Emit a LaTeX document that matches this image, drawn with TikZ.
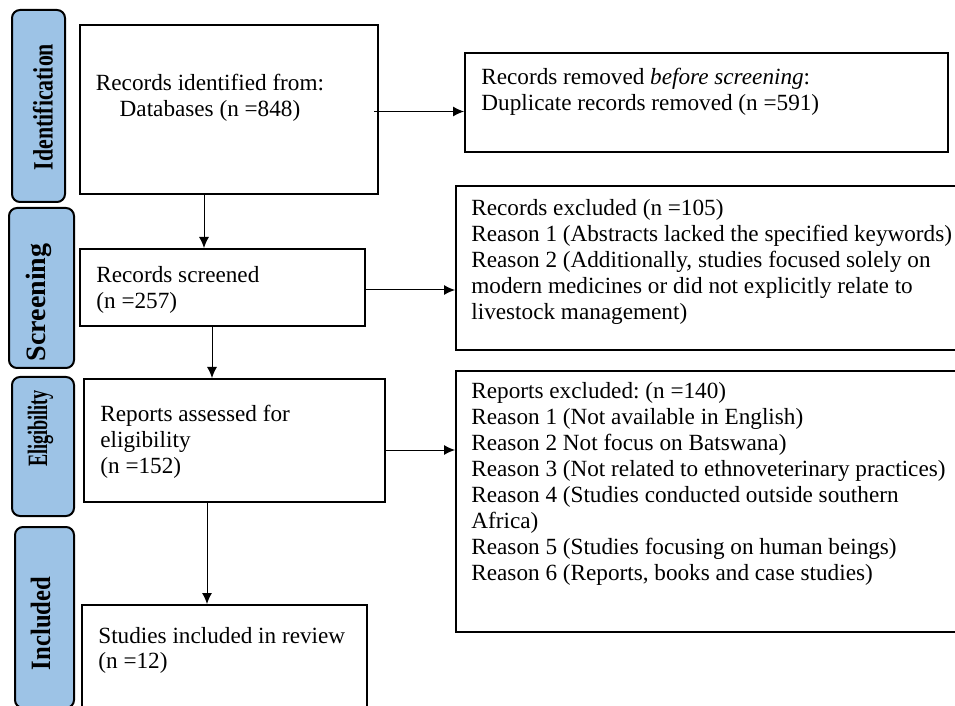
\documentclass[tikz,border=0pt]{standalone}
\usepackage{fontspec}
\usepackage{graphicx}
\setmainfont{Liberation Serif}
\frenchspacing
\usetikzlibrary{arrows.meta}
\definecolor{stageblue}{HTML}{9DC3E6}
\newcommand{\boxlines}[2]{\begin{tabular}[t]{@{}#1@{}}#2\end{tabular}}
\newcommand{\squeezed}[2]{\scalebox{#1}[1]{#2}}
\tikzset{
  box/.style={draw, line width=1pt, inner sep=0pt},
  stage/.style={draw, line width=1pt, fill=stageblue, rounded corners=4pt, inner sep=0pt},
  stagetxt/.style={rotate=90, inner sep=0pt, font=\fontsize{14}{14}\selectfont\bfseries},
  txt/.style={inner sep=0pt, anchor=base west, font=\fontsize{11.6}{13}\selectfont},
  arr/.style={-{Latex[length=5.5pt,width=5pt]}, line width=0.5pt}
}
\begin{document}
\begin{tikzpicture}[x=0.5pt,y=-0.5pt]
  \useasboundingbox (0,0) rectangle (955,706);
  \clip (0,0) rectangle (955,706);
  % stages
  \node[stage, minimum width=26.5pt, minimum height=96pt] (sId) at (38.5,106) {};
  \node[stage, minimum width=32.5pt, minimum height=80pt] (sSc) at (41.5,288) {};
  \node[stage, minimum width=31pt, minimum height=69.5pt] (sEl) at (43,446.5) {};
  \node[stage, minimum width=29.5pt, minimum height=90.5pt] (sIn) at (44.5,617.5) {};
  \node[stagetxt] (tId) at (43,107) {\squeezed{0.78}{Identification}};
  \node[stagetxt] (tSc) at (38.5,302.5) {Screening};
  \node[stagetxt] (tEl) at (40.5,428.5) {\squeezed{0.65}{Eligibility}};
  \node[stagetxt] (tIn) at (40.5,623.5) {\squeezed{0.88}{Included}};
  % main boxes
  \node[box, minimum width=149pt, minimum height=84.5pt] (b1) at (229,109.5) {};
  \node[box, minimum width=142.5pt, minimum height=38.5pt] (b2) at (222.5,287.5) {};
  \node[box, minimum width=150.5pt, minimum height=61.5pt] (b3) at (234.5,440.5) {};
  \node[box, minimum width=142.5pt, minimum height=67.5pt] (b4) at (224.5,672.5) {};
  % right boxes
  \node[box, minimum width=241.5pt, minimum height=49.5pt] (rA) at (706.5,102.5) {};
  \node[box, minimum width=257pt, minimum height=82pt] (rB) at (713,268) {};
  \node[box, minimum width=257pt, minimum height=130.5pt] (rC) at (713,501.5) {};
  % texts
  \node[txt, anchor=base] (x1) at (210,91) {\boxlines{c}{Records identified from:\\Databases (n =848)}};
  \node[txt] (x2) at (96,283) {\boxlines{l}{Records screened\\(n =257)}};
  \node[txt] (x3) at (100,422) {\boxlines{l}{Reports assessed for\\eligibility\\(n =152)}};
  \node[txt] (x4) at (98,643) {\boxlines{l}{Studies included in review\\(n =12)}};
  \node[txt] (xA) at (481,85) {\boxlines{l}{Records removed \textit{before screening}:\\Duplicate records removed (n =591)}};
  \node[txt] (xB) at (471,216) {\boxlines{l}{Records excluded (n =105)\\Reason 1 (Abstracts lacked the specified keywords)\\Reason 2 (Additionally, studies focused solely on\\modern medicines or did not explicitly relate to\\livestock management)}};
  \node[txt] (xC) at (471,399) {\boxlines{l}{Reports excluded: (n =140)\\Reason 1 (Not available in English)\\Reason 2 Not focus on Batswana)\\Reason 3 (Not related to ethnoveterinary practices)\\Reason 4 (Studies conducted outside southern\\Africa)\\Reason 5 (Studies focusing on human beings)\\Reason 6 (Reports, books and case studies)}};
  % arrows
  \draw[arr] ([xshift=-12.5pt]b1.south) -- ([xshift=-12.5pt]b1.south |- b2.north);
  \draw[arr] ([xshift=-5.25pt]b2.south) -- ([xshift=-5.25pt]b2.south |- b3.north);
  \draw[arr] ([xshift=-13.75pt]b3.south) -- ([xshift=-13.75pt]b3.south |- b4.north);
  \draw[arr] ([xshift=-2.5pt,yshift=-1pt]b1.east) -- ([yshift=-1pt]b1.east -| rA.west);
  \draw[arr] ([yshift=-1.25pt]b2.east) -- ([yshift=-1.25pt]b2.east -| rB.west);
  \draw[arr] ([yshift=-4.75pt]b3.east) -- ([yshift=-4.75pt]b3.east -| rC.west);
\end{tikzpicture}
\end{document}
